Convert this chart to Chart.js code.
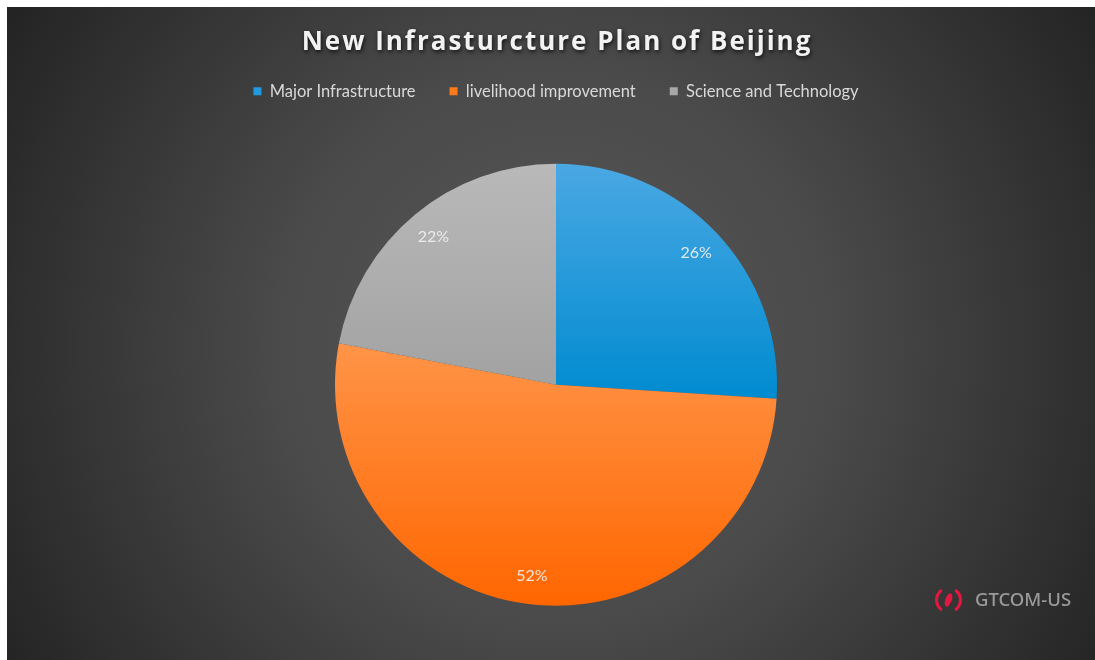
<!DOCTYPE html>
<html>
<head>
<meta charset="utf-8">
<title>New Infrasturcture Plan of Beijing</title>
<script src="https://cdn.jsdelivr.net/npm/chart.js@4.4.1/dist/chart.umd.min.js"></script>
<style>
  html, body { margin: 0; padding: 0; background: #202020; overflow: hidden; }
  canvas { display: block; }
</style>
</head>
<body>
<canvas id="c" width="1095" height="660"></canvas>
<script>
// Chart text and data
const chartTitle = 'New Infrasturcture Plan of Beijing';
const categories = ['Major Infrastructure', 'livelihood improvement', 'Science and Technology'];
const shares = [26, 52, 22];           // percent of plan
const brandName = 'GTCOM-US';

// Slice styling: vertical gradient per slice, flat swatch for the legend
const sliceTop = ['#4aa8e3', '#ff9448', '#b9b9b9'];
const sliceBottom = ['#008bd0', '#ff6600', '#a2a2a2'];
const legendSwatch = ['#1f9be0', '#ff7a1a', '#a8a8a8'];

const PIE_RADIUS = 221;
const FRAME = 7;   // white margin on the top and left edges

function sliceFill(c) {
  const i = c.dataIndex;
  const chart = c.chart;
  const a = chart.chartArea;
  if (!a || c.type !== 'data') return sliceTop[i];
  const cx = (a.left + a.right) / 2;
  const cy = (a.top + a.bottom) / 2;
  const total = shares.reduce((s, v) => s + v, 0);
  let acc = 0;
  for (let k = 0; k < i; k++) acc += shares[k];
  const s = -Math.PI / 2 + acc / total * 2 * Math.PI;
  const e = s + shares[i] / total * 2 * Math.PI;
  const ys = [cy, cy + PIE_RADIUS * Math.sin(s), cy + PIE_RADIUS * Math.sin(e)];
  for (const q of [-Math.PI / 2, Math.PI / 2, 3 * Math.PI / 2]) {
    if (q >= s && q <= e) ys.push(cy + PIE_RADIUS * Math.sin(q));
  }
  const g = chart.ctx.createLinearGradient(0, Math.min(...ys), 0, Math.max(...ys));
  g.addColorStop(0, sliceTop[i]);
  g.addColorStop(1, sliceBottom[i]);
  return g;
}

// White frame and dark radial backdrop
const backdrop = {
  id: 'backdrop',
  beforeDraw(chart) {
    const { ctx, width, height } = chart;
    ctx.save();
    ctx.fillStyle = '#ffffff';
    ctx.fillRect(0, 0, width, FRAME);
    ctx.fillRect(0, 0, FRAME, height);
    const g = ctx.createRadialGradient(556, 347, 0, 556, 347, 700);
    g.addColorStop(0, '#595959');
    g.addColorStop(0.4, '#4a4a4a');
    g.addColorStop(0.95, '#212121');
    g.addColorStop(1, '#202020');
    ctx.fillStyle = g;
    ctx.fillRect(FRAME, FRAME, width - FRAME, height - FRAME);
    ctx.restore();
  }
};

// Percentage labels inside the slices
const sliceLabels = {
  id: 'sliceLabels',
  afterDatasetsDraw(chart) {
    const { ctx } = chart;
    const meta = chart.getDatasetMeta(0);
    ctx.save();
    ctx.font = '16px Lato, "Open Sans", sans-serif';
    ctx.fillStyle = 'rgba(240,240,240,0.92)';
    ctx.textAlign = 'center';
    ctx.textBaseline = 'middle';
    meta.data.forEach((arc, i) => {
      const p = arc.getProps(['x', 'y', 'startAngle', 'endAngle', 'outerRadius'], true);
      const mid = (p.startAngle + p.endAngle) / 2;
      const rr = p.outerRadius * 0.87;
      ctx.fillText(shares[i] + '%', p.x + Math.cos(mid) * rr, p.y + Math.sin(mid) * rr);
    });
    ctx.restore();
  }
};

// Title with letter spacing and shadow, plus the brand mark
const decorations = {
  id: 'decorations',
  afterDraw(chart) {
    const { ctx } = chart;
    ctx.save();
    ctx.font = 'bold 26px "Open Sans", sans-serif';
    ctx.letterSpacing = '2px';
    ctx.textAlign = 'center';
    ctx.textBaseline = 'middle';
    ctx.shadowColor = 'rgba(0,0,0,0.75)';
    ctx.shadowBlur = 4;
    ctx.shadowOffsetX = 1;
    ctx.shadowOffsetY = 2;
    ctx.fillStyle = '#f2f2f2';
    ctx.fillText(chartTitle, 557, 43);
    ctx.restore();

    // brand icon
    const ix = 948.5, iy = 600;
    ctx.save();
    ctx.strokeStyle = '#e3173f';
    ctx.fillStyle = '#e3173f';
    ctx.lineWidth = 3;
    ctx.lineCap = 'round';
    ctx.beginPath();
    ctx.arc(ix, iy, 12, Math.PI * 0.72, Math.PI * 1.28);
    ctx.stroke();
    ctx.beginPath();
    ctx.arc(ix, iy, 12, -Math.PI * 0.28, Math.PI * 0.28);
    ctx.stroke();
    ctx.beginPath();
    ctx.ellipse(ix, iy, 3.2, 7, 0.35, 0, Math.PI * 2);
    ctx.fill();
    ctx.restore();

    ctx.save();
    ctx.font = '500 18.5px "Noto Sans", sans-serif';
    ctx.fillStyle = '#9a9a9a';
    ctx.textAlign = 'left';
    ctx.textBaseline = 'middle';
    ctx.fillText(brandName, 975, 601);
    ctx.restore();
  }
};

new Chart(document.getElementById('c'), {
  type: 'pie',
  data: {
    labels: categories,
    datasets: [{
      data: shares,
      backgroundColor: sliceFill,
      borderWidth: 0
    }]
  },
  options: {
    responsive: false,
    animation: false,
    radius: PIE_RADIUS,
    layout: { padding: { top: 49, left: 17, right: 0, bottom: -2 } },
    plugins: {
      tooltip: { enabled: false },
      title: { display: false },
      legend: {
        position: 'top',
        labels: {
          boxWidth: 8,
          boxHeight: 8,
          padding: 34,
          color: '#d9d9d9',
          font: { family: 'Lato, "Open Sans", sans-serif', size: 16.5 },
          generateLabels(chart) {
            return categories.map((name, i) => ({
              text: name,
              fillStyle: legendSwatch[i],
              strokeStyle: legendSwatch[i],
              lineWidth: 0,
              fontColor: '#d9d9d9',
              hidden: false,
              index: i
            }));
          }
        }
      }
    }
  },
  plugins: [backdrop, sliceLabels, decorations]
});
</script>
</body>
</html>
